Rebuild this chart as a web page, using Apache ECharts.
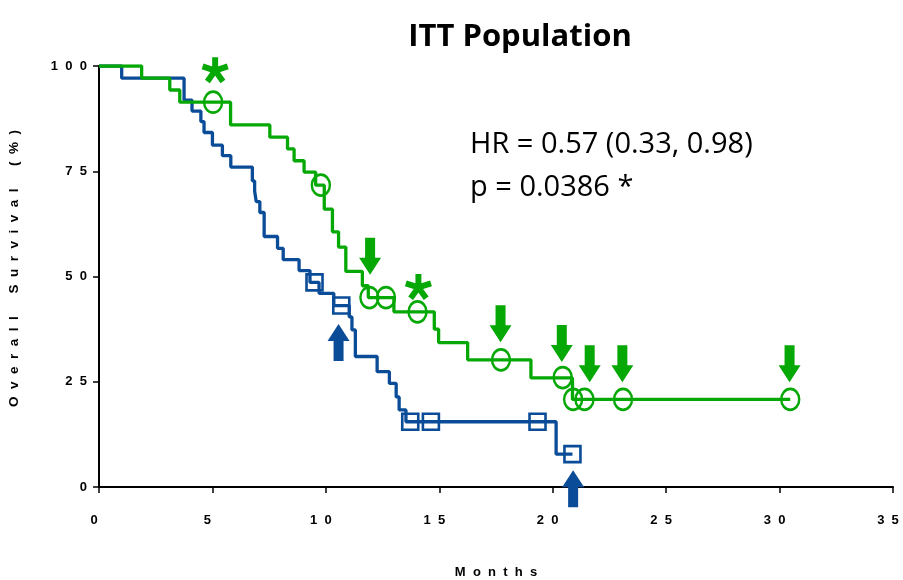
<!DOCTYPE html>
<html>
<head>
<meta charset="utf-8">
<script src="https://cdn.jsdelivr.net/npm/echarts@6/dist/echarts.min.js"></script>
<style>html,body{margin:0;padding:0;background:#fff}#c{width:903px;height:580px}</style>
</head>
<body>
<div id="c"></div>
<script>
// ---- data ----
const xTicks = [0, 5, 10, 15, 20, 25, 30, 35];
const yTicks = [0, 25, 50, 75, 100];

const greenTimes = [0, 1.88, 3.12, 3.56, 5.8, 7.53, 8.31, 8.6, 9.04, 9.55, 9.93, 10.29, 10.56, 10.88, 11.61, 11.87, 13.0, 14.78, 14.97, 16.25, 19.04, 20.87, 30.47];
const greenSurv  = [100, 97.1, 94.3, 91.4, 86.0, 83.1, 80.3, 77.5, 74.8, 71.7, 66.0, 60.6, 57.0, 51.2, 47.8, 45.0, 41.6, 37.5, 34.3, 30.2, 25.9, 20.8, 20.8];

const blueTimes = [0, 1.0, 3.75, 4.1, 4.49, 4.63, 5.0, 5.44, 5.81, 6.76, 6.86, 6.93, 7.09, 7.28, 7.87, 8.12, 8.82, 9.3, 9.7, 10.35, 11.03, 11.15, 11.3, 12.26, 12.8, 13.1, 13.23, 13.53, 20.15, 20.87];
const blueSurv  = [100, 97.1, 91.9, 89.3, 86.8, 84.2, 81.2, 78.7, 76.0, 72.7, 70.3, 67.8, 65.2, 59.5, 56.7, 54.0, 51.4, 48.6, 46.0, 43.1, 40.4, 37.3, 31.0, 27.4, 24.6, 21.4, 18.3, 15.5, 7.8, 7.8];

const greenCensorT = [5.03, 9.78, 11.92, 12.65, 14.04, 17.72, 20.44, 20.9, 21.4, 23.1, 30.47];
const greenCensorS = [91.4, 71.7, 45.0, 45.0, 41.6, 30.2, 26.0, 20.8, 20.8, 20.8, 20.8];

const blueCensorT = [9.5, 10.68, 13.72, 14.63, 19.33, 20.87];
const blueCensorS = [48.6, 43.1, 15.5, 15.5, 15.5, 7.8];

const greenArrowT = [11.95, 17.7, 20.4, 21.63, 23.07, 30.44];
const greenArrowS = [50.4, 34.4, 29.7, 24.9, 24.9, 24.9];   // arrow tip

const blueArrowT = [10.56, 20.9];
const blueArrowS = [38.7, 4.0];                              // arrow tip

const starT = [5.12, 14.08];
const starS = [99.0, 47.5];

const titleText = 'ITT Population';
const hrText = 'HR = 0.57 (0.33, 0.98)';
const pText = 'p = 0.0386 *';
const xName = 'Months';
const yName = 'Overall Survival (%)';

// ---- styles ----
const GREEN = '#05a805';
const BLUE = '#0a4c98';
const zip = (a, b) => a.map((v, i) => [v, b[i]]);
const spaced2 = s => String(s).split('').join('  ');
const spacedName = s => s.split(' ').map(w => w.split('').join('  ')).join('      ');

const downArrow = 'path://M6,0 L16,0 L16,20 L22,20 L11,37 L0,20 L6,20 Z';
const upArrow = 'path://M11,0 L22,17 L16,17 L16,37 L6,37 L6,17 L0,17 Z';

function starPath() {
  const L = 12, w = 2.7;
  let d = '';
  for (let k = 0; k < 5; k++) {
    const a = (k * 72) * Math.PI / 180;
    const dx = Math.sin(a), dy = -Math.cos(a);
    const px = -dy, py = dx;
    const p1 = [px * w, py * w], p2 = [dx * L + px * w, dy * L + py * w];
    const p3 = [dx * L - px * w, dy * L - py * w], p4 = [-px * w, -py * w];
    d += 'M' + [p1, p2, p3, p4].map(p => (p[0] + 20).toFixed(2) + ',' + (p[1] + 20).toFixed(2)).join(' L') + ' Z ';
  }
  return 'path://' + d;
}

const chart = echarts.init(document.getElementById('c'), null, {renderer: 'canvas'});
const axisFont = {fontFamily: 'Liberation Sans', fontWeight: 'bold', fontSize: 13, color: '#000'};

chart.setOption({
  animation: false,
  backgroundColor: '#fff',
  grid: {left: 99, right: 10, top: 66, bottom: 93, containLabel: false, outerBoundsMode: 'none'},
  xAxis: {
    type: 'value', min: 0, max: 35, interval: 5,
    axisLine: {lineStyle: {color: '#000', width: 2}},
    axisTick: {length: 6, lineStyle: {color: '#000', width: 1.5}},
    splitLine: {show: false},
    axisLabel: Object.assign({margin: 27, padding: [0, 10, 0, 0], formatter: v => xTicks.includes(v) ? spaced2(v) : ''}, axisFont),
    name: spacedName(xName), nameLocation: 'middle', nameGap: 79,
    nameTextStyle: Object.assign({}, axisFont, {fontSize: 13})
  },
  yAxis: {
    type: 'value', min: 0, max: 100, interval: 25,
    axisLine: {show: true, lineStyle: {color: '#000', width: 2}},
    axisTick: {show: true, length: 6, lineStyle: {color: '#000', width: 1.5}},
    splitLine: {show: false},
    axisLabel: Object.assign({margin: 12, formatter: v => yTicks.includes(v) ? spaced2(v) : ''}, axisFont),
    name: spacedName(yName), nameLocation: 'middle', nameGap: 78,
    nameTextStyle: Object.assign({}, axisFont, {fontSize: 13.5, padding: [0, 0, 0, 16]})
  },
  graphic: [
    {type: 'text', x: 520, y: 37, style: {text: titleText, font: 'bold 31px "Open Sans"', fill: '#000', textAlign: 'center', textVerticalAlign: 'middle'}},
    {type: 'text', x: 470, y: 145, style: {text: hrText, font: '29px "Open Sans"', fill: '#000', textVerticalAlign: 'middle'}},
    {type: 'text', x: 470, y: 188, style: {text: pText, font: '29px "Open Sans"', fill: '#000', textVerticalAlign: 'middle'}}
  ],
  series: [
    {type: 'line', step: 'end', data: zip(blueTimes, blueSurv), showSymbol: false, symbol: 'none',
     lineStyle: {color: BLUE, width: 3.3}, z: 3},
    {type: 'line', step: 'end', data: zip(greenTimes, greenSurv), showSymbol: false, symbol: 'none',
     lineStyle: {color: GREEN, width: 3.3}, z: 4},
    {type: 'scatter', data: zip(blueCensorT, blueCensorS), symbol: 'rect', symbolSize: 16, clip: false,
     itemStyle: {color: 'rgba(0,0,0,0)', borderColor: BLUE, borderWidth: 2.6, opacity: 1}, z: 5},
    {type: 'scatter', data: zip(greenCensorT, greenCensorS), symbol: 'circle', symbolSize: [18, 21], clip: false,
     itemStyle: {color: 'rgba(0,0,0,0)', borderColor: GREEN, borderWidth: 2.6, opacity: 1}, z: 6},
    {type: 'scatter', data: zip(greenArrowT, greenArrowS), symbol: downArrow, symbolSize: [22, 37],
     symbolOffset: [0, -18.5], clip: false, itemStyle: {color: GREEN, opacity: 1}, z: 7},
    {type: 'scatter', data: zip(blueArrowT, blueArrowS), symbol: upArrow, symbolSize: [22, 37],
     symbolOffset: [0, 18.5], clip: false, itemStyle: {color: BLUE, opacity: 1}, z: 7},
    {type: 'scatter', data: zip(starT, starS), symbol: starPath(), symbolSize: [27, 26], clip: false,
     itemStyle: {color: GREEN, opacity: 1}, z: 7}
  ]
});
</script>
</body>
</html>
